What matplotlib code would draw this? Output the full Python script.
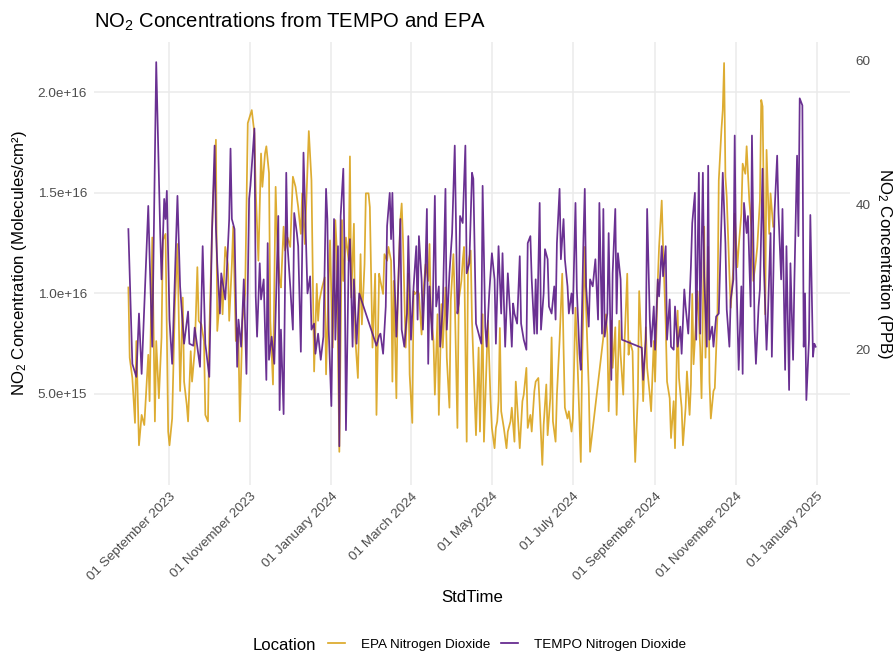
import numpy as np
import pandas as pd
import matplotlib
matplotlib.use("Agg")
import matplotlib.pyplot as plt
from matplotlib.lines import Line2D

plt.rcParams['font.family'] = ['Liberation Sans', 'DejaVu Sans']
plt.rcParams['mathtext.fontset'] = 'custom'
plt.rcParams['mathtext.rm'] = 'Liberation Sans'
plt.rcParams['mathtext.it'] = 'Liberation Sans:italic'
plt.rcParams['mathtext.bf'] = 'Liberation Sans:bold'

# ---------------- data ----------------
start_date = "2023-08-01"

# TEMPO tropospheric NO2 column (x 1e15 molecules/cm^2), days since start_date
tempo_day = [0, 3, 6, 8, 10, 15, 16, 18, 21, 24, 25, 27, 28, 29, 31, 33, 37, 39, 42, 45,
             46, 49, 50, 54, 56, 58, 61, 63, 65, 66, 67, 69, 70, 73, 74, 76, 77, 78, 80, 82,
             83, 85, 87, 89, 91, 92, 95, 96, 97, 99, 100, 102, 104, 105, 106, 108, 110, 113, 114, 115,
             117, 119, 120, 122, 124, 125, 127, 128, 130, 132, 134, 135, 137, 138, 140, 141, 143, 145, 147, 149,
             150, 151, 153, 155, 156, 158, 159, 160, 162, 163, 164, 166, 167, 169, 170, 172, 174, 187, 189, 190,
             192, 194, 195, 197, 198, 199, 200, 202, 203, 205, 206, 208, 210, 211, 213, 215, 217, 218, 219, 221,
             222, 224, 225, 226, 227, 229, 231, 232, 234, 235, 237, 239, 240, 242, 244, 246, 248, 249, 250, 252,
             254, 255, 257, 259, 260, 262, 264, 266, 267, 269, 270, 272, 274, 276, 277, 279, 281, 282, 284, 286,
             288, 289, 290, 291, 293, 295, 296, 298, 300, 301, 303, 304, 306, 307, 308, 310, 311, 313, 314, 316,
             317, 319, 321, 322, 323, 325, 326, 328, 329, 331, 332, 334, 335, 337, 338, 340, 341, 343, 344, 345,
             347, 348, 350, 352, 354, 355, 357, 358, 359, 361, 362, 364, 365, 367, 368, 369, 371, 372, 387, 388,
             390, 391, 393, 394, 396, 397, 399, 400, 402, 403, 405, 406, 408, 409, 411, 412, 414, 416, 417, 419,
             420, 422, 424, 425, 427, 428, 430, 431, 433, 434, 436, 437, 438, 440, 441, 443, 445, 447, 448, 450,
             451, 453, 454, 456, 457, 458, 460, 462, 463, 464, 466, 467, 469, 470, 472, 473, 475, 476, 478, 479,
             481, 482, 484, 485, 487, 489, 490, 492, 493, 495, 496, 498, 499, 501, 502, 504, 505, 506, 508, 509,
             510, 511, 513, 514, 516, 517, 518]
tempo_e15 = [13.2, 6.5, 5.85, 9.0, 6.0, 14.35, 11.85, 7.35, 21.5, 13.0, 10.7, 14.7, 13.7, 15.1, 8.7, 6.5, 14.85, 10.35, 7.5, 9.1,
             7.5, 7.4, 8.3, 6.35, 12.35, 7.5, 5.85, 13.0, 17.35, 13.2, 11.5, 9.0, 11.0, 9.7, 10.85, 13.7, 17.2, 13.7, 13.2, 6.35,
             8.7, 7.35, 10.7, 6.0, 14.7, 15.35, 18.2, 9.85, 7.85, 11.5, 9.7, 10.7, 5.7, 12.5, 6.7, 7.85, 6.5, 13.85, 4.2, 8.2,
             4.0, 16.0, 12.35, 10.35, 8.2, 14.0, 13.0, 12.35, 7.1, 17.0, 12.2, 10.0, 10.85, 8.2, 8.5, 7.0, 8.0, 6.7, 7.85, 15.2,
             13.7, 8.2, 4.4, 13.7, 7.7, 12.35, 2.4, 13.85, 16.2, 11.7, 3.2, 11.5, 12.7, 7.35, 10.7, 7.5, 10.0, 7.4, 7.9, 8.0,
             7.0, 9.35, 13.35, 15.0, 12.7, 15.0, 12.0, 7.85, 9.5, 13.7, 8.2, 7.35, 9.0, 12.85, 7.7, 10.35, 12.35, 8.7, 12.85, 10.7,
             8.2, 11.5, 14.2, 6.5, 10.35, 7.7, 14.85, 9.35, 10.35, 7.35, 9.35, 15.2, 8.2, 11.0, 13.0, 17.35, 9.0, 9.5, 13.85, 13.5,
             17.35, 11.0, 11.5, 16.0, 15.7, 8.5, 8.0, 7.5, 15.35, 8.35, 7.35, 10.0, 12.0, 10.7, 7.5, 12.35, 9.0, 12.0, 7.35, 11.0,
             8.7, 7.35, 9.5, 9.0, 8.5, 11.85, 8.5, 7.7, 7.2, 12.5, 12.85, 10.7, 8.0, 10.7, 8.0, 14.5, 8.2, 10.0, 12.2, 11.7,
             9.35, 9.0, 10.35, 8.7, 12.5, 15.2, 11.7, 13.7, 11.7, 10.35, 9.0, 10.0, 9.0, 14.5, 10.2, 7.0, 6.2, 12.7, 15.2, 10.35,
             8.35, 10.7, 10.35, 11.7, 8.7, 14.5, 8.0, 14.2, 7.85, 9.0, 13.0, 5.7, 11.0, 14.2, 9.0, 12.0, 10.7, 7.7, 7.3, 5.7,
             7.7, 14.2, 8.7, 7.35, 9.35, 7.2, 10.7, 9.85, 12.35, 10.85, 12.35, 7.7, 9.7, 7.35, 7.2, 9.35, 7.35, 8.35, 7.0, 10.2,
             9.35, 8.0, 11.35, 13.5, 15.0, 7.7, 16.0, 8.0, 16.0, 10.85, 7.35, 16.35, 7.7, 8.35, 7.35, 8.85, 9.0, 13.7, 16.0, 12.5,
             9.2, 7.35, 9.7, 10.7, 17.85, 11.5, 6.2, 10.35, 6.0, 14.5, 13.0, 13.85, 9.35, 17.85, 8.2, 6.5, 9.35, 10.2, 16.2, 11.35,
             7.2, 8.85, 13.0, 6.85, 14.0, 16.85, 14.0, 10.7, 14.2, 6.2, 12.35, 5.2, 11.5, 6.7, 10.7, 16.85, 12.85, 19.7, 19.35, 7.35,
             10.0, 4.7, 7.7, 13.9, 6.85, 7.5, 7.35]

# EPA surface NO2 (PPB), days since start_date
epa_day = [0, 1, 3, 5, 6, 8, 10, 12, 13, 15, 16, 18, 20, 21, 23, 25, 26, 28, 30, 31,
           33, 35, 37, 39, 41, 42, 44, 45, 47, 48, 50, 52, 53, 55, 57, 58, 60, 61, 63, 64,
           66, 67, 68, 70, 71, 73, 75, 76, 78, 79, 81, 82, 83, 84, 86, 88, 90, 93, 95, 96,
           98, 100, 101, 103, 104, 106, 107, 109, 111, 112, 114, 115, 117, 118, 120, 122, 124, 126, 128, 130,
           131, 133, 136, 138, 140, 142, 143, 144, 146, 148, 149, 151, 152, 154, 156, 157, 159, 161, 162, 164,
           166, 167, 168, 170, 171, 173, 175, 176, 178, 179, 181, 182, 184, 186, 187, 189, 190, 192, 193, 195,
           196, 198, 199, 200, 202, 203, 205, 206, 207, 209, 211, 212, 214, 215, 216, 218, 219, 221, 222, 224,
           226, 227, 228, 230, 231, 233, 234, 236, 237, 239, 240, 242, 243, 245, 246, 248, 249, 251, 252, 253,
           255, 256, 258, 259, 261, 262, 264, 265, 267, 268, 270, 271, 273, 274, 276, 277, 278, 279, 280, 281,
           283, 285, 286, 288, 289, 291, 292, 294, 295, 297, 298, 300, 301, 303, 304, 306, 307, 309, 310, 312,
           313, 315, 316, 318, 319, 320, 322, 323, 325, 327, 328, 329, 331, 332, 334, 335, 337, 338, 339, 341,
           342, 344, 345, 347, 348, 360, 361, 362, 364, 365, 367, 368, 370, 371, 373, 374, 376, 377, 378, 380,
           381, 382, 384, 385, 387, 388, 390, 391, 393, 394, 396, 397, 399, 400, 402, 403, 405, 406, 408, 409,
           411, 412, 414, 415, 417, 418, 420, 421, 423, 424, 425, 426, 428, 429, 431, 432, 434, 435, 437, 438,
           439, 441, 442, 444, 445, 447, 448, 449, 450, 451, 453, 454, 456, 457, 459, 460, 462, 463, 465, 466,
           467, 468, 470, 471, 473, 474, 476, 477, 478, 480, 481, 483, 484, 486]
epa_ppb = [28.6, 18.9, 16.1, 9.9, 21.2, 6.8, 11.0, 9.6, 12.9, 19.3, 12.9, 35.5, 10.1, 21.2, 13.3, 21.7, 35.1, 36.0, 8.7, 6.8,
           10.5, 25.8, 34.6, 14.3, 27.2, 15.6, 12.4, 10.1, 19.8, 15.6, 19.8, 31.4, 24.0, 23.5, 21.2, 11.0, 10.1, 22.1, 36.0, 41.1,
           49.0, 22.6, 24.9, 29.5, 24.9, 34.2, 31.8, 24.0, 31.8, 37.0, 21.2, 23.0, 21.2, 10.1, 24.0, 27.7, 51.3, 53.1, 49.9, 42.0,
           32.3, 47.1, 42.5, 47.1, 48.1, 44.4, 24.0, 15.2, 42.5, 36.0, 29.5, 28.6, 37.0, 33.7, 35.5, 34.2, 43.9, 42.5, 39.7, 36.0,
           41.6, 34.6, 50.2, 43.4, 17.0, 29.1, 24.0, 26.8, 28.6, 30.0, 16.6, 29.5, 35.1, 20.3, 37.9, 34.2, 5.9, 37.9, 29.5, 35.5,
           32.3, 46.7, 27.2, 37.4, 21.7, 16.1, 33.2, 23.5, 31.8, 41.6, 41.6, 39.7, 20.3, 30.5, 11.0, 30.5, 29.5, 27.7, 33.2, 32.3,
           34.2, 32.3, 15.6, 29.5, 13.3, 27.2, 37.9, 40.2, 35.1, 20.3, 30.5, 16.6, 9.9, 28.1, 27.7, 28.1, 27.7, 22.1, 27.2, 31.8,
           29.5, 34.6, 24.9, 21.2, 13.8, 24.9, 11.0, 26.3, 20.3, 28.6, 18.9, 12.0, 26.8, 33.2, 27.2, 9.2, 26.8, 29.5, 32.3, 34.2,
           7.3, 31.8, 33.7, 24.0, 13.3, 8.2, 20.3, 8.7, 24.9, 7.3, 18.4, 24.0, 12.9, 9.2, 6.4, 9.2, 10.1, 12.9, 23.0, 11.5,
           9.2, 6.4, 8.7, 10.1, 12.0, 7.3, 15.6, 9.6, 6.4, 12.9, 13.8, 17.5, 9.2, 11.0, 8.7, 14.3, 15.6, 16.1, 12.4, 4.1,
           9.6, 15.2, 8.2, 13.3, 21.7, 10.1, 7.3, 13.8, 21.2, 30.5, 20.3, 12.0, 10.5, 11.5, 8.7, 10.5, 25.8, 21.2, 15.6, 4.5,
           18.4, 34.2, 25.8, 14.7, 5.9, 24.9, 22.1, 11.5, 24.0, 17.5, 23.1, 11.0, 24.0, 19.3, 13.8, 21.2, 30.5, 19.3, 21.2, 19.8,
           11.0, 4.5, 13.8, 28.1, 19.3, 12.9, 23.1, 17.5, 13.8, 11.5, 21.2, 15.6, 29.5, 34.2, 40.6, 34.2, 23.5, 15.6, 13.3, 7.8,
           12.9, 6.4, 25.4, 16.1, 12.0, 6.8, 12.0, 17.0, 11.0, 15.2, 27.7, 18.0, 24.9, 28.1, 20.3, 13.3, 37.0, 18.9, 34.2, 15.6,
           10.5, 14.3, 14.7, 24.9, 43.4, 50.4, 53.1, 59.6, 43.9, 41.1, 30.5, 25.8, 31.4, 38.8, 31.4, 34.2, 38.8, 45.7, 44.3, 48.1,
           44.3, 40.6, 36.0, 29.5, 32.3, 34.2, 40.6, 54.5, 53.6, 24.9, 47.6, 36.0, 41.6, 37.0]

ppb_to_molec = 3.6e14   # secondary-axis scale: 1 PPB <-> 3.6e14 molecules/cm^2

left_ticks = [5.0e15, 1.0e16, 1.5e16, 2.0e16]
left_labels = ["5.0e+15", "1.0e+16", "1.5e+16", "2.0e+16"]
right_ticks = [20, 40, 60]
x_tick_dates = ["2023-09-01", "2023-11-01", "2024-01-01", "2024-03-01", "2024-05-01",
                "2024-07-01", "2024-09-01", "2024-11-01", "2025-01-01"]
series_labels = ["EPA Nitrogen Dioxide", "TEMPO Nitrogen Dioxide"]

# ---------------- build ----------------
start = pd.Timestamp(start_date)
tempo_dates = start + pd.to_timedelta(np.array(tempo_day), unit="D")
epa_dates = start + pd.to_timedelta(np.array(epa_day), unit="D")
tempo_vals = np.array(tempo_e15) * 1e15
epa_vals = np.array(epa_ppb) * ppb_to_molec

col_epa = "#DAA520"
col_tempo = "#5A1A86"
grey_txt = "#4D4D4D"

W, H = 896, 652
fig = plt.figure(figsize=(W / 100, H / 100), dpi=100)
L, R, T, B = 94, 850, 42, 485
ax = fig.add_axes([L / W, 1 - B / H, (R - L) / W, (B - T) / H])

ax.plot(epa_dates, epa_vals, color=col_epa, lw=1.25, alpha=0.92, zorder=3)
ax.plot(tempo_dates, tempo_vals, color=col_tempo, lw=1.25, alpha=0.9, zorder=3)

# ggplot-like 5% expansion
xmin = min(tempo_dates.min(), epa_dates.min())
xmax = max(tempo_dates.max(), epa_dates.max())
span = xmax - xmin
ax.set_xlim(xmin - 0.05 * span, xmax + 0.05 * span)
ymin = min(tempo_vals.min(), epa_vals.min())
ymax = max(tempo_vals.max(), epa_vals.max())
ys = ymax - ymin
ax.set_ylim(ymin - 0.05 * ys, ymax + 0.05 * ys)

for s in ax.spines.values():
    s.set_visible(False)
ax.grid(True, color="#EBEBEB", lw=1.1)
ax.set_axisbelow(True)

ax.set_yticks(left_ticks)
ax.set_yticklabels(left_labels)
xt = pd.to_datetime(x_tick_dates)
ax.set_xticks(xt)
ax.set_xticklabels([d.strftime("%d %B %Y") for d in xt], rotation=45, ha="right",
                   va="top", rotation_mode="anchor")
ax.tick_params(axis="both", length=0, labelsize=9.7, labelcolor=grey_txt)
ax.tick_params(axis="y", pad=5)
ax.tick_params(axis="x", pad=4)

sec = ax.secondary_yaxis("right", functions=(lambda v: v / ppb_to_molec,
                                             lambda p: p * ppb_to_molec))
sec.set_yticks(right_ticks)
sec.tick_params(length=0, labelsize=9.7, labelcolor=grey_txt, pad=4)
for s in sec.spines.values():
    s.set_visible(False)

ax.set_title(r"NO$_\mathregular{2}$ Concentrations from TEMPO and EPA", loc="left",
             fontsize=14.6, pad=10)

cy = 1 - (T + B) / 2 / H
fig.text(20 / W, cy, r"NO$_\mathregular{2}$ Concentration (Molecules/cm²)", rotation=90,
         ha="center", va="center", fontsize=12.1)
fig.text(884 / W, cy, r"NO$_\mathregular{2}$ Concentration (PPB)", rotation=-90,
         ha="center", va="center", fontsize=12.1)
fig.text((L + R) / 2 / W, 1 - 597 / H, "StdTime", ha="center", va="center", fontsize=12.1)

# legend
fig.text(253 / W, 1 - 645 / H, "Location", ha="left", va="center", fontsize=12.1)
handles = [Line2D([], [], color=col_epa, lw=1.2), Line2D([], [], color=col_tempo, lw=1.2)]
fig.legend(handles, series_labels, loc="center left", bbox_to_anchor=(328 / W, 1 - 645 / H),
           ncol=2, frameon=False, fontsize=9.7, handlelength=1.25, handletextpad=1.2,
           columnspacing=0.8, borderpad=0, borderaxespad=0)

fig.savefig("out.png", dpi=100, facecolor="white")
